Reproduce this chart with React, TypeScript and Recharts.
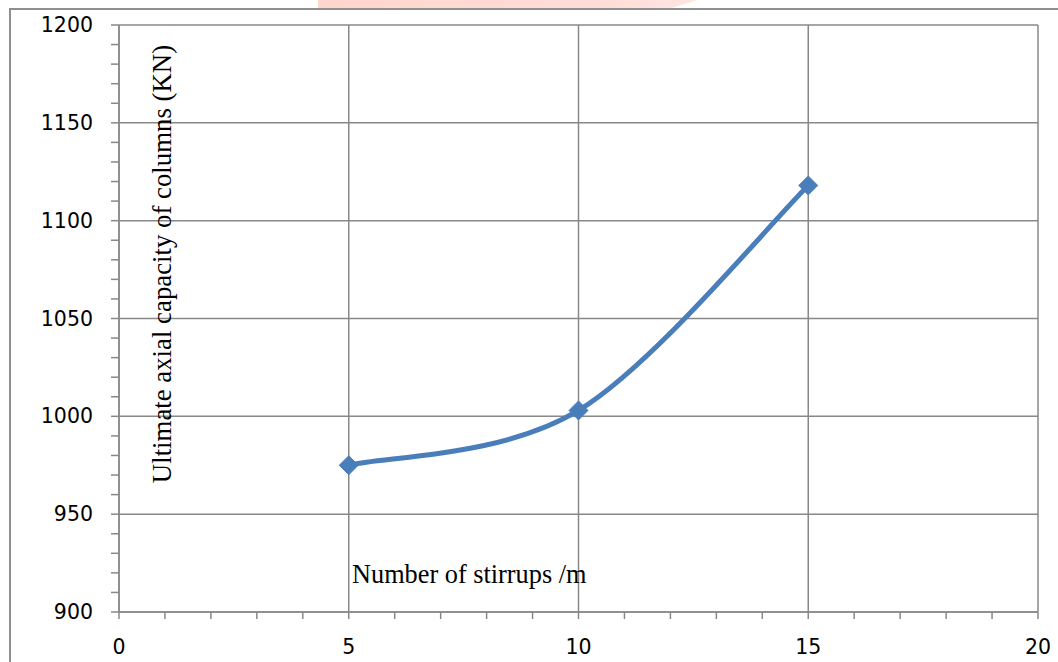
import React from 'react';
import { LineChart, Line, XAxis, YAxis, CartesianGrid, Label } from 'recharts';

// Measured capacity per stirrup spacing
const stirrups = [5, 10, 15];
const capacity = [975, 1003, 1118];

// Axis ticks: labelled majors plus unlabelled minors
const xMajor = [0, 5, 10, 15, 20];
const xTicks = Array.from({ length: 21 }, (_, i) => i);
const yMajor = [900, 950, 1000, 1050, 1100, 1150, 1200];
const yTicks = Array.from({ length: 31 }, (_, i) => 900 + i * 10);

const data = stirrups.map((s, i) => ({ stirrups: s, capacity: capacity[i] }));

const GRID = '#888888';
const BLUE = '#4A7EBB';
const TICK_FONT = '"DejaVu Sans", sans-serif';
const TITLE_FONT = '"Liberation Serif", "Times New Roman", serif';

// Spreadsheet-style smoothed line: cubic beziers with Catmull-Rom tangents (1/6 factor)
const smoothCurve = (context: any) => {
  let pts: [number, number][] = [];
  return {
    areaStart() {},
    areaEnd() {},
    lineStart() {
      pts = [];
    },
    point(x: number, y: number) {
      pts.push([+x, +y]);
    },
    lineEnd() {
      if (!pts.length) return;
      context.moveTo(pts[0][0], pts[0][1]);
      for (let i = 0; i < pts.length - 1; i++) {
        const p0 = pts[Math.max(i - 1, 0)];
        const p1 = pts[i];
        const p2 = pts[i + 1];
        const p3 = pts[Math.min(i + 2, pts.length - 1)];
        context.bezierCurveTo(
          p1[0] + (p2[0] - p0[0]) / 6,
          p1[1] + (p2[1] - p0[1]) / 6,
          p2[0] - (p3[0] - p1[0]) / 6,
          p2[1] - (p3[1] - p1[1]) / 6,
          p2[0],
          p2[1],
        );
      }
    },
  };
};

const XTick = (props: any) => {
  const { x, y, payload } = props;
  if (!xMajor.includes(payload.value)) return null;
  return (
    <text x={x} y={y} textAnchor="middle" dominantBaseline="central" fontFamily={TICK_FONT} fontSize={20.5} fill="#000">
      {payload.value}
    </text>
  );
};

const YTick = (props: any) => {
  const { x, y, payload } = props;
  if (!yMajor.includes(payload.value)) return null;
  return (
    <text x={x} y={y} textAnchor="end" dominantBaseline="central" fontFamily={TICK_FONT} fontSize={20.5} fill="#000">
      {payload.value}
    </text>
  );
};

const Diamond = (props: any) => {
  const { cx, cy } = props;
  if (cx == null || cy == null) return null;
  const r = 9.5;
  return (
    <polygon
      points={`${cx},${cy - r} ${cx + r},${cy} ${cx},${cy + r} ${cx - r},${cy}`}
      fill={BLUE}
      stroke={BLUE}
      strokeWidth={1}
    />
  );
};

export default function App() {
  return (
    <div style={{ position: 'fixed', left: 0, top: 0, width: 1058, height: 662, overflow: 'hidden', background: '#fff' }}>
      {/* faded banner behind the top edge */}
      <div
        style={{
          position: 'absolute',
          left: 318,
          top: 0,
          width: 380,
          height: 9,
          background: 'linear-gradient(90deg, #ffd6cf 0%, #ffdcd6 70%, #ffe6e2 100%)',
          clipPath: 'polygon(0 0, 100% 0, 92% 100%, 0 100%)',
        }}
      />
      {/* outer frame */}
      <div
        style={{
          position: 'absolute',
          left: 9,
          top: 8,
          width: 1200,
          height: 800,
          borderLeft: '2px solid #8f8f8f',
          borderTop: '2px solid #8f8f8f',
        }}
      />
      <div style={{ position: 'absolute', left: 0, top: 0 }}>
        <LineChart width={1058} height={662} data={data} margin={{ top: 25, right: 20, bottom: 0, left: 0 }}>
          <CartesianGrid
            stroke={GRID}
            strokeWidth={1.5}
            horizontalValues={yMajor}
            verticalValues={xMajor}
          />
          <XAxis
            dataKey="stirrups"
            type="number"
            domain={[0, 20]}
            ticks={xTicks}
            interval={0}
            height={50}
            tickSize={7}
            tickMargin={28}
            axisLine={{ stroke: GRID, strokeWidth: 1.5 }}
            tickLine={{ stroke: GRID, strokeWidth: 1.5 }}
            tick={<XTick />}
          >
            <Label
              content={(p: any) => {
                const vb = p.viewBox;
                return (
                  <text x={vb.x + 233} y={vb.y - 29} fontFamily={TITLE_FONT} fontSize={26.3} fill="#000">
                    Number of stirrups /m
                  </text>
                );
              }}
            />
          </XAxis>
          <YAxis
            type="number"
            domain={[900, 1200]}
            ticks={yTicks}
            interval={0}
            width={119}
            tickSize={8}
            tickMargin={18}
            axisLine={{ stroke: GRID, strokeWidth: 1.5 }}
            tickLine={{ stroke: GRID, strokeWidth: 1.5 }}
            tick={<YTick />}
          >
            <Label
              content={(p: any) => {
                const vb = p.viewBox;
                const x = vb.x + vb.width + 43;
                const y = vb.y + 239;
                return (
                  <text
                    x={x}
                    y={y}
                    transform={`rotate(-90, ${x}, ${y})`}
                    textAnchor="middle"
                    dominantBaseline="central"
                    fontFamily={TITLE_FONT}
                    fontSize={26.8}
                    fill="#000"
                  >
                    Ultimate axial capacity of columns (KN)
                  </text>
                );
              }}
            />
          </YAxis>
          <Line
            type={smoothCurve as any}
            dataKey="capacity"
            stroke={BLUE}
            strokeWidth={5}
            dot={<Diamond />}
            activeDot={false}
            isAnimationActive={false}
          />
        </LineChart>
      </div>
    </div>
  );
}
